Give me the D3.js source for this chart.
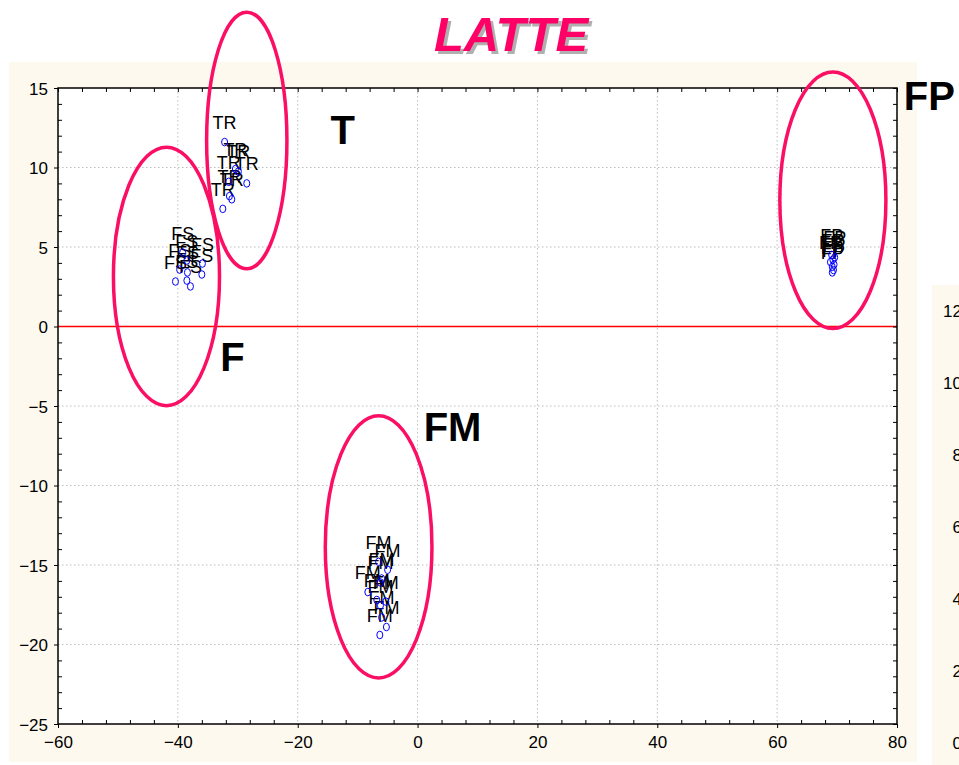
<!DOCTYPE html>
<html>
<head>
<meta charset="utf-8">
<script src="https://cdn.jsdelivr.net/npm/d3@7"></script>
<style>
  html, body { margin: 0; padding: 0; background: #ffffff; }
  svg { display: block; }
  text { font-family: Arial, "Liberation Sans", sans-serif; }
</style>
</head>
<body>
<script>
// Score coordinates for each milk group
const trX = [-32.2, -30.4, -29.9, -31.5, -28.5, -31.4, -31.0, -32.5];
const trY = [11.6, 9.9, 9.75, 9.1, 9.0, 8.2, 8.0, 7.4];
const fsX = [-39.2, -38.5, -35.9, -39.7, -38.4, -36.0, -40.4, -38.5, -37.9];
const fsY = [4.65, 4.15, 3.96, 3.58, 3.4, 3.27, 2.83, 2.89, 2.52];
const fpX = [69.1, 69.6, 69.3, 68.9, 69.5, 69.2, 69.4, 69.2];
const fpY = [4.5, 4.35, 4.2, 4.05, 3.9, 3.75, 3.55, 3.4];
const fmX = [-6.5, -5.0, -6.0, -6.2, -8.3, -6.8, -5.3, -6.2, -6.0, -5.2, -6.3];
const fmY = [-14.8, -15.3, -15.85, -16.1, -16.7, -17.2, -17.3, -17.55, -18.3, -18.9, -19.4];

const groupCodes = ["TR", "FS", "FP", "FM"];

// Cluster ellipses: centre and half-axes in data units
const ellipseCx = [-28.5, -41.9, 69.3, -6.5];
const ellipseCy = [11.7, 3.15, 7.94, -13.86];
const ellipseRx = [6.7, 8.85, 8.85, 8.9];
const ellipseRy = [8.07, 8.13, 8.07, 8.25];

// Group captions and their anchor points in data units
const captionText = ["T", "F", "FP", "FM"];
const captionX = [-12.5, -30.9, 85.4, 5.84];
const captionY = [11.45, -2.83, 13.6, -7.23];

const xTicks = [-60, -40, -20, 0, 20, 40, 60, 80];
const yTicks = [15, 10, 5, 0, -5, -10, -15, -20, -25];
const sideTicks = [0, 2, 4, 6, 8, 10, 12];

const W = 959, H = 765;
const svg = d3.select("body").append("svg").attr("width", W).attr("height", H);

// panel backgrounds
svg.append("rect").attr("x", 9).attr("y", 62).attr("width", 908).attr("height", 700).attr("fill", "#fdf9ee");
svg.append("rect").attr("x", 932).attr("y", 285).attr("width", 40).attr("height", 480).attr("fill", "#fdf9ee");

const pL = 58, pR = 897, pT = 88, pB = 724;
const x = d3.scaleLinear().domain([-60, 80]).range([pL, pR]);
const y = d3.scaleLinear().domain([-25, 15]).range([pB, pT]);

svg.append("rect").attr("x", pL).attr("y", pT).attr("width", pR - pL).attr("height", pB - pT).attr("fill", "#ffffff");

// dotted grid
const grid = svg.append("g");
grid.selectAll("line.gx").data(xTicks.filter(d => d > -60 && d < 80)).join("line")
  .attr("x1", d => x(d)).attr("x2", d => x(d)).attr("y1", pT).attr("y2", pB)
  .attr("stroke", "#bdbdbd").attr("stroke-width", 1).attr("stroke-dasharray", "1.5,2.5");
grid.selectAll("line.gy").data(yTicks.filter(d => d > -25 && d < 15 && d !== 0)).join("line")
  .attr("x1", pL).attr("x2", pR).attr("y1", d => y(d)).attr("y2", d => y(d))
  .attr("stroke", "#bdbdbd").attr("stroke-width", 1).attr("stroke-dasharray", "1.5,2.5");

// zero reference line
svg.append("line").attr("x1", pL).attr("x2", pR).attr("y1", y(0)).attr("y2", y(0))
  .attr("stroke", "#ff0000").attr("stroke-width", 1.5);

// axes: major ticks outward, minor ticks inward
const xMinor = d3.range(-60, 80.01, 4).filter(d => !xTicks.includes(d));
const yMinor = d3.range(-25, 15.01, 1).filter(d => !yTicks.includes(d));

const axB = svg.append("g").attr("transform", `translate(0,${pB})`)
  .call(d3.axisBottom(x).tickValues(xTicks).tickSize(4).tickPadding(6).tickFormat(d3.format("d")));
const axL = svg.append("g").attr("transform", `translate(${pL},0)`)
  .call(d3.axisLeft(y).tickValues(yTicks).tickSize(4).tickPadding(6).tickFormat(d3.format("d")));
[axB, axL].forEach(a => {
  a.select(".domain").remove();
  a.selectAll("text").attr("font-size", 17).attr("fill", "#000").attr("font-family", "Arial, 'Liberation Sans', sans-serif");
  a.selectAll("line").attr("stroke", "#000");
});
axB.selectAll("text").attr("dy", "0.85em");
axL.selectAll("text").attr("dy", "0.36em");

svg.append("g").attr("transform", `translate(0,${pB})`)
  .call(d3.axisTop(x).tickValues(xMinor).tickSize(4).tickFormat(""))
  .call(g => g.select(".domain").remove());
svg.append("g").attr("transform", `translate(0,${pT})`)
  .call(d3.axisBottom(x).tickValues(xMinor.concat(xTicks)).tickSize(4).tickFormat(""))
  .call(g => g.select(".domain").remove());
svg.append("g").attr("transform", `translate(${pL},0)`)
  .call(d3.axisRight(y).tickValues(yMinor).tickSize(4).tickFormat(""))
  .call(g => g.select(".domain").remove());
svg.append("g").attr("transform", `translate(${pR},0)`)
  .call(d3.axisLeft(y).tickValues(yMinor.concat(yTicks)).tickSize(4).tickFormat(""))
  .call(g => g.select(".domain").remove());

// frame
svg.append("rect").attr("x", pL).attr("y", pT).attr("width", pR - pL).attr("height", pB - pT)
  .attr("fill", "none").attr("stroke", "#000").attr("stroke-width", 1.5);

// sample points and their labels
const groups = [
  { code: groupCodes[0], xs: trX, ys: trY },
  { code: groupCodes[1], xs: fsX, ys: fsY },
  { code: groupCodes[2], xs: fpX, ys: fpY },
  { code: groupCodes[3], xs: fmX, ys: fmY }
];
const pts = groups.flatMap(g => g.xs.map((v, i) => ({ code: g.code, x: v, y: g.ys[i] })));

svg.append("g").selectAll("text").data(pts).join("text")
  .attr("x", d => x(d.x)).attr("y", d => y(d.y) - 13)
  .attr("text-anchor", "middle").attr("font-size", 18).attr("fill", "#000")
  .text(d => d.code);

svg.append("g").selectAll("ellipse").data(pts).join("ellipse")
  .attr("cx", d => x(d.x)).attr("cy", d => y(d.y)).attr("rx", 3).attr("ry", 3.8)
  .attr("fill", "none").attr("stroke", "#0000ff").attr("stroke-width", 1);

// cluster ellipses
const ell = ellipseCx.map((c, i) => ({ cx: c, cy: ellipseCy[i], rx: ellipseRx[i], ry: ellipseRy[i] }));
svg.append("g").selectAll("ellipse").data(ell).join("ellipse")
  .attr("cx", d => x(d.cx)).attr("cy", d => y(d.cy))
  .attr("rx", d => x(d.cx + d.rx) - x(d.cx)).attr("ry", d => y(d.cy - d.ry) - y(d.cy))
  .attr("fill", "none").attr("stroke", "#fa0f64").attr("stroke-width", 3.5);

// group captions
svg.append("g").selectAll("text").data(captionText.map((t, i) => ({ t, x: captionX[i], y: captionY[i] }))).join("text")
  .attr("x", d => x(d.x)).attr("y", d => y(d.y))
  .attr("text-anchor", "middle").attr("font-size", 40).attr("font-weight", "bold").attr("fill", "#000")
  .text(d => d.t);

// title with drop shadow
svg.append("text").attr("x", 514).attr("y", 54).attr("text-anchor", "middle")
  .attr("font-size", 49).attr("font-weight", "bold").attr("font-style", "italic").attr("fill", "#b0b0b0")
  .text("LATTE");
svg.append("text").attr("x", 511).attr("y", 51).attr("text-anchor", "middle")
  .attr("font-size", 49).attr("font-weight", "bold").attr("font-style", "italic").attr("fill", "#ff0066")
  .text("LATTE");

// neighbouring panel axis labels
const ys = d3.scaleLinear().domain([0, 12]).range([743, 311]);
svg.append("g").selectAll("text").data(sideTicks).join("text")
  .attr("x", 962).attr("y", d => ys(d)).attr("dy", "0.36em").attr("text-anchor", "end")
  .attr("font-size", 17).attr("fill", "#000").text(d => d);
</script>
</body>
</html>
